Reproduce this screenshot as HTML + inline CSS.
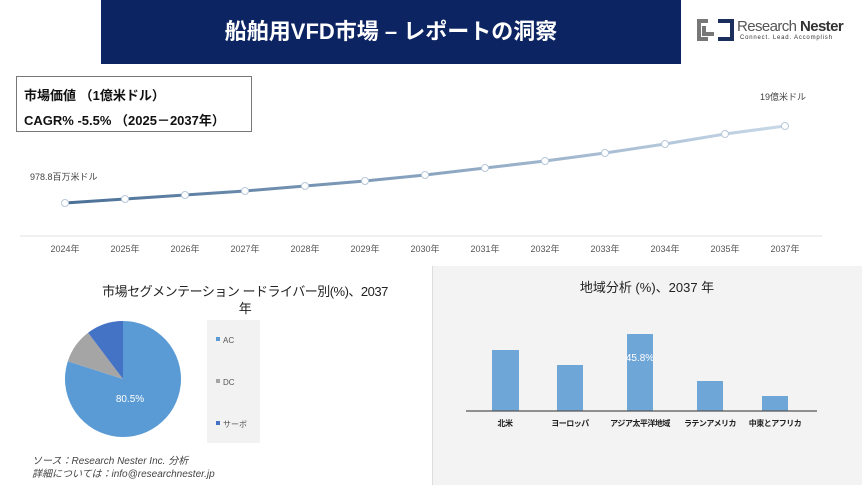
<!DOCTYPE html>
<html><head><meta charset="utf-8"><style>
body{margin:0;width:862px;height:485px;background:#fff;position:relative;overflow:hidden;font-family:"Liberation Sans","Noto Sans CJK JP",sans-serif}
.a{position:absolute;white-space:nowrap}
</style></head><body>
<div class="a" style="left:101px;top:0;width:580px;height:64px;background:#0c2461"></div>
<div class="a" style="left:101px;top:14px;width:580px;text-align:center;color:#fff;font-size:22px;font-weight:bold">船舶用VFD市場 – レポートの洞察</div>
<svg class="a" style="left:696px;top:18px" width="40" height="24"><path d="M12 3H3V21H12M8 8V16H18" fill="none" stroke="#777" stroke-width="4"/><path d="M22 3H36V21H22" fill="none" stroke="#1a2f5e" stroke-width="4"/></svg>
<div class="a" style="left:737px;top:18px;font-size:15px;color:#555;letter-spacing:-0.6px">Research <b style="color:#333">Nester</b></div>
<div class="a" style="left:740px;top:35px;font-size:6px;color:#333;letter-spacing:0.8px">Connect. Lead. Accomplish</div>
<div class="a" style="left:16px;top:76px;width:234px;height:54px;border:1px solid #777;background:#fff"></div>
<div class="a" style="left:24px;top:85px;font-size:13px;font-weight:bold;color:#111">市場価値 （1億米ドル）</div>
<div class="a" style="left:24px;top:110px;font-size:13px;font-weight:bold;color:#111">CAGR% -5.5% （2025－2037年）</div>
<div class="a" style="left:30px;top:170px;font-size:9px;color:#444">978.8百万米ドル</div>
<div class="a" style="left:760px;top:90px;font-size:9px;color:#444">19億米ドル</div>
<svg class="a" style="left:0;top:0" width="862" height="265">
<defs><linearGradient id="g" x1="65" x2="785" gradientUnits="userSpaceOnUse"><stop offset="0" stop-color="#4a6f96"/><stop offset="1" stop-color="#c8d8e8"/></linearGradient></defs>
<line x1="20" y1="236" x2="822" y2="236" stroke="#e0e0e0"/>
<polyline points="65,203 125,199 185,195 245,191 305,186 365,181 425,175 485,168 545,161 605,153 665,144 725,134 785,126" fill="none" stroke="url(#g)" stroke-width="3"/>
<g fill="#fff" stroke="#b8c8da" stroke-width="1">
<circle cx="65" cy="203" r="3.5"/><circle cx="125" cy="199" r="3.5"/><circle cx="185" cy="195" r="3.5"/><circle cx="245" cy="191" r="3.5"/><circle cx="305" cy="186" r="3.5"/><circle cx="365" cy="181" r="3.5"/><circle cx="425" cy="175" r="3.5"/><circle cx="485" cy="168" r="3.5"/><circle cx="545" cy="161" r="3.5"/><circle cx="605" cy="153" r="3.5"/><circle cx="665" cy="144" r="3.5"/><circle cx="725" cy="134" r="3.5"/><circle cx="785" cy="126" r="3.5"/></g>
<g font-size="9" fill="#555" text-anchor="middle" font-family="Liberation Sans,Noto Sans CJK JP,sans-serif">
<text x="65" y="252">2024年</text><text x="125" y="252">2025年</text><text x="185" y="252">2026年</text><text x="245" y="252">2027年</text><text x="305" y="252">2028年</text><text x="365" y="252">2029年</text><text x="425" y="252">2030年</text><text x="485" y="252">2031年</text><text x="545" y="252">2032年</text><text x="605" y="252">2033年</text><text x="665" y="252">2034年</text><text x="725" y="252">2035年</text><text x="785" y="252">2037年</text></g>
</svg>
<div class="a" style="left:60px;top:283px;width:370px;text-align:center;font-size:13px;color:#222;line-height:17px;white-space:normal;letter-spacing:-0.5px">市場セグメンテーション ードライバー別(%)、2037<br>年</div>
<svg class="a" style="left:0;top:265px" width="432" height="220">
<path d="M123 114 L123 56 A58 58 0 1 1 67.8 96.2 Z" fill="#5b9bd5"/>
<path d="M123 114 L67.8 96.2 A58 58 0 0 1 88.1 67.7 Z" fill="#a5a5a5"/>
<path d="M123 114 L88.1 67.7 A58 58 0 0 1 123 56 Z" fill="#4472c4"/>
<text x="130" y="137" font-size="10" fill="#fff" text-anchor="middle" font-family="Liberation Sans,sans-serif">80.5%</text>
<rect x="207" y="55" width="53" height="123" fill="#f2f2f2"/>
<rect x="216" y="72" width="4" height="4" fill="#5b9bd5"/><text x="223" y="78" font-size="8" fill="#555">AC</text>
<rect x="216" y="114" width="4" height="4" fill="#a5a5a5"/><text x="223" y="120" font-size="8" fill="#555">DC</text>
<rect x="216" y="156" width="4" height="4" fill="#4472c4"/><text x="223" y="162" font-size="8" fill="#555" font-family="Noto Sans CJK JP,sans-serif">サーボ</text>
</svg>
<div class="a" style="left:32px;top:455px;font-size:10px;color:#444;font-style:italic;line-height:13px">ソース：Research Nester Inc. 分析<br>詳細については：info@researchnester.jp</div>
<div class="a" style="left:432px;top:266px;width:430px;height:219px;background:#f3f3f3;border-left:1px solid #ddd"></div>
<div class="a" style="left:432px;top:277px;width:430px;text-align:center;font-size:13px;color:#222">地域分析 (%)、2037 年</div>
<svg class="a" style="left:432px;top:266px" width="430" height="219">
<g fill="#6fa6d8"><rect x="60" y="84" width="27" height="61"/><rect x="125" y="99" width="26" height="46"/><rect x="195" y="68" width="26" height="77"/><rect x="265" y="115" width="26" height="30"/><rect x="330" y="130" width="26" height="15"/></g>
<line x1="34" y1="145" x2="385" y2="145" stroke="#555" stroke-width="1.2"/>
<text x="208" y="95" font-size="10" fill="#fff" text-anchor="middle" font-family="Liberation Sans,sans-serif">45.8%</text>
<g font-size="8" fill="#222" text-anchor="middle" font-weight="bold" font-family="Noto Sans CJK JP,sans-serif" letter-spacing="-0.5">
<text x="73" y="160">北米</text><text x="138" y="160">ヨーロッパ</text><text x="208" y="160">アジア太平洋地域</text><text x="278" y="160">ラテンアメリカ</text><text x="343" y="160">中東とアフリカ</text></g>
</svg>
</body></html>
